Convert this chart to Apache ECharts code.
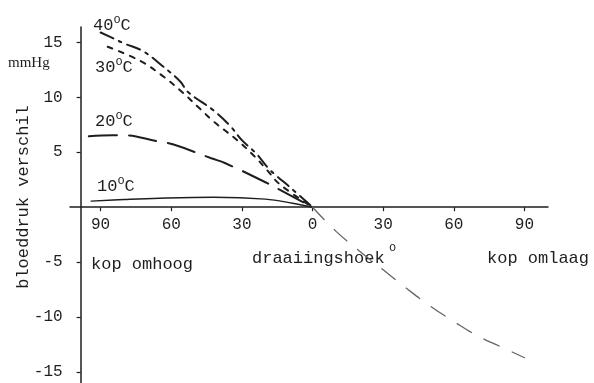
<!DOCTYPE html>
<html><head><meta charset="utf-8">
<script src="https://cdn.jsdelivr.net/npm/echarts@6/dist/echarts.min.js"></script>
<style>html,body{margin:0;padding:0;background:#fff}#c{width:594px;height:383px}</style>
</head><body><div id="c"></div>
<script>
// angle in degrees: negative = kop omhoog (left), positive = kop omlaag (right)
const xTicks = [-90, -60, -30, 0, 30, 60, 90];
const yTicks = [-15, -10, -5, 5, 10, 15];

const angles40 = [-90, -84, -80, -72, -64, -56, -53, -42, -35, -30, -24, -19, -15, -10, 0];
const values40 = [15.9, 15.3, 14.9, 14.2, 12.9, 11.4, 10.5, 8.8, 7.4, 6.1, 4.9, 3.6, 2.8, 1.9, 0];

const angles30 = [-87, -73, -64, -56, -48, -42, -32, -25, -19, -14, 0];
const values30 = [14.6, 13.3, 12.0, 10.6, 9.0, 7.8, 6.1, 4.7, 3.3, 2.1, 0];

const angles20 = [-95, -85, -80, -66, -59, -43, -37, -20, -14, 0];
const values20 = [6.45, 6.55, 6.55, 6.0, 5.7, 4.45, 4.0, 2.27, 1.6, 0];

const angles10 = [-94, -80, -65, -42, -20, -8.5, 0];
const values10 = [0.55, 0.7, 0.82, 0.9, 0.73, 0.36, 0];

const anglesDown = [0, 10, 20, 30, 40, 50, 60, 70, 80, 90];
const valuesDown = [0, -2.2, -4.0, -5.7, -7.4, -9.0, -10.4, -11.7, -12.7, -13.7];

const zip = (a, b) => a.map((x, i) => [x, b[i]]);
const mono = '"Liberation Mono", "DejaVu Sans Mono", monospace';
const ink = '#1e1e1e';
const yMin = -16, yMax = 16.4;
const gridTop = 27, gridBottom = 0, H = 383;

const chart = echarts.init(document.getElementById('c'));
const tempLabel = (n) => '{n|' + n + '}{s|o}{n|C}';
const tRich = {
  n: { fontFamily: mono, fontSize: 17, fill: ink, lineHeight: 20, verticalAlign: 'bottom' },
  s: { fontFamily: mono, fontSize: 12, fill: ink, lineHeight: 20, verticalAlign: 'top', padding: [0, 0, 10, 0] }
};
function gtext(x, y, text, extra) {
  return Object.assign({ type: 'text', x: x, y: y, style: Object.assign({ text: text, fontFamily: mono, fontSize: 17, fill: ink, verticalAlign: 'middle' }, extra || {}) });
}
function series(name, data, dash, width, color) {
  return { name: name, type: 'line', data: data, smooth: 0.4, symbol: 'none', silent: true,
    lineStyle: { color: color || ink, width: width, type: dash, cap: 'round' } };
}
// shift the bottom x axis up to the zero line of the y scale
const gridH = H - gridTop - gridBottom;
const zeroShift = gridH * (0 - yMin) / (yMax - yMin);

chart.setOption({
  animation: false,
  backgroundColor: '#fff',
  grid: { left: 70, right: 46, top: gridTop, bottom: gridBottom, containLabel: false, outerBoundsMode: 'none' },
  xAxis: {
    type: 'value', min: -103, max: 100, position: 'bottom', offset: -zeroShift,
    axisLine: { onZero: false, lineStyle: { color: ink, width: 1.5 } },
    axisTick: { customValues: xTicks, length: 4, lineStyle: { color: ink, width: 1.2 } },
    axisLabel: { customValues: xTicks, formatter: v => String(Math.abs(v)), margin: 10,
      fontFamily: mono, fontSize: 16, color: ink },
    splitLine: { show: false }
  },
  yAxis: {
    type: 'value', min: yMin, max: yMax, offset: -10.6,
    axisLine: { show: true, onZero: false, lineStyle: { color: ink, width: 1.5 } },
    axisTick: { show: true, customValues: yTicks, length: 4, lineStyle: { color: ink, width: 1.2 } },
    axisLabel: { customValues: yTicks, formatter: v => String(v), margin: 18,
      fontFamily: mono, fontSize: 16, color: ink },
    splitLine: { show: false }
  },
  series: [
    series('40°C', zip(angles40, values40), [14, 6, 3, 6], 2),
    series('30°C', zip(angles30, values30), [5, 7], 2),
    series('20°C', zip(angles20, values20), [28, 12], 2),
    series('10°C', zip(angles10, values10), 'solid', 1.4),
    series('kop omlaag', zip(anglesDown, valuesDown), [17, 14], 1.3, '#666')
  ],
  graphic: [
    { type: 'text', x: 93, y: 34, style: { text: tempLabel(40), rich: tRich, verticalAlign: 'bottom' } },
    { type: 'text', x: 95, y: 76, style: { text: tempLabel(30), rich: tRich, verticalAlign: 'bottom' } },
    { type: 'text', x: 95, y: 130, style: { text: tempLabel(20), rich: tRich, verticalAlign: 'bottom' } },
    { type: 'text', x: 97, y: 195, style: { text: tempLabel(10), rich: tRich, verticalAlign: 'bottom' } },
    gtext(8, 63, 'mmHg', { fontFamily: '"Liberation Serif", serif', fontSize: 15 }),
    { type: 'text', x: 23, y: 197, rotation: Math.PI / 2,
      style: { text: 'bloeddruk verschil', fontFamily: mono, fontSize: 17, fill: ink, align: 'center', verticalAlign: 'middle' } },
    gtext(91, 264, 'kop omhoog'),
    gtext(252, 258, 'draaiingshoek'),
    gtext(389, 248, 'o', { fontSize: 12 }),
    gtext(487, 258, 'kop omlaag')
  ]
});
</script></body></html>
